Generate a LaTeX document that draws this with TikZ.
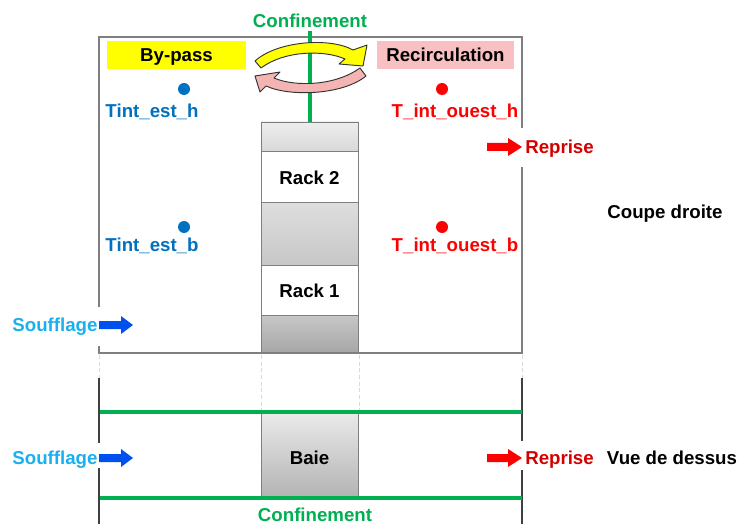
\documentclass[tikz,border=0pt]{standalone}
\usepackage{fontspec}
\setmainfont{Liberation Sans}
\usetikzlibrary{shadings}
\definecolor{cgreen}{HTML}{00B050}
\definecolor{cblue}{HTML}{0070C0}
\definecolor{csky}{HTML}{1AB0F0}
\definecolor{carrowblue}{HTML}{0050F0}
\definecolor{cred}{HTML}{FF0000}
\definecolor{cdred}{HTML}{D40000}
\definecolor{cpinkbox}{HTML}{F8C0C0}
\definecolor{cpinkarrow}{HTML}{F4B4B4}
\definecolor{cyel}{HTML}{FFFF00}
\definecolor{cborder}{HTML}{7F7F7F}
\tikzset{
  lbl/.style={font=\fontsize{14}{16}\selectfont\bfseries, inner sep=0pt, text height=10pt, text depth=0pt},
  boxline/.style={draw=cborder, line width=0.9pt},
  rackline/.style={draw=cborder, line width=0.6pt},
  greenline/.style={draw=cgreen, line width=2.4pt},
  faint/.style={draw=black!15, line width=0.4pt, densely dashed},
  dotb/.style={circle, fill=cblue, minimum size=9pt, inner sep=0pt},
  dotr/.style={circle, fill=cred, minimum size=9pt, inner sep=0pt},
  curvearrow/.style={draw=black!80, line width=0.7pt, line join=round},
}
\begin{document}
\begin{tikzpicture}[x=0.75pt,y=-0.75pt]
\useasboundingbox (0,0) rectangle (742,524);

% ---------- Coupe droite ----------
% rack stack
\shade[top color=black!7, bottom color=black!15] (261,122) rectangle (358,151);
\fill[white] (261,151) rectangle (358,202);
\shade[top color=black!13, bottom color=black!22] (261,202) rectangle (358,265);
\fill[white] (261,265) rectangle (358,315);
\shade[top color=black!22, bottom color=black!35] (261,315) rectangle (358,353);
\draw[rackline] (261,122) rectangle (358,353);
\draw[rackline] (261,151) -- (358,151) (261,202) -- (358,202) (261,265) -- (358,265) (261,315) -- (358,315);
\draw[draw=black!70, line width=0.9pt] (261,353) -- (358,353);

% outer box
\draw[boxline] (99,307) -- (99,37) -- (522,37) -- (522,128);
\draw[boxline] (522,167) -- (522,353) -- (99,353) -- (99,346);

% confinement line
\draw[greenline] (310,31) -- (310,122);
\node[lbl, text=cgreen] (conftop) at (310,21) {Confinement};

% boxes
\node[lbl, fill=cyel, minimum width=139*0.75pt, minimum height=28*0.75pt] (bypass) at (176.5,55) {By-pass};
\node[lbl, fill=cpinkbox, minimum width=137*0.75pt, minimum height=28*0.75pt] (recirc) at (445.5,55) {Recirculation};

% curved arrows
\filldraw[curvearrow, fill=cyel] (255,61) .. controls (277,41) and (330,37) .. (353,50) -- (367,45) -- (363,66) -- (339,64) -- (345,59) .. controls (325,50) and (285,50) .. (261,68) -- cycle;
\filldraw[curvearrow, fill=cpinkarrow] (366,76) .. controls (343,95) and (290,97) .. (266,86) -- (260,92) -- (255,76) -- (280,72) -- (274,78) .. controls (295,87) and (335,86) .. (360,68) -- cycle;

% sensors
\node[dotb] (deh) at (184,89) {};
\node[lbl, text=cblue] (teh) at (152,111) {Tint\_est\_h};
\node[dotb] (deb) at (184,227) {};
\node[lbl, text=cblue] (teb) at (152,245) {Tint\_est\_b};
\node[dotr] (doh) at (442,89) {};
\node[lbl, text=cred] (toh) at (455,111) {T\_int\_ouest\_h};
\node[dotr] (dob) at (442,227) {};
\node[lbl, text=cred] (tob) at (455,245) {T\_int\_ouest\_b};

% racks labels
\node[lbl] (rack2) at (309.5,178) {Rack 2};
\node[lbl] (rack1) at (309.5,291) {Rack 1};

% reprise
\fill[cred] (487,143) -- (508,143) -- (508,138) -- (522,147) -- (508,156) -- (508,151) -- (487,151) -- cycle;
\node[lbl, text=cdred, anchor=west] (rep1) at (525,147) {Reprise};
\node[lbl] (coupe) at (665,212) {Coupe droite};

% soufflage
\node[lbl, text=csky] (souf1) at (55,325) {Soufflage};
\fill[carrowblue] (99,321) -- (121,321) -- (121,316) -- (133,325) -- (121,334) -- (121,329) -- (99,329) -- cycle;

% ---------- Vue de dessus ----------
\draw[faint] (99,355) -- (99,378);
\draw[faint] (261,355) -- (261,412);
\draw[faint] (359,355) -- (359,412);
\draw[faint] (522,355) -- (522,378);
\draw[draw=black!75, line width=0.9pt] (99,378) -- (99,443) (99,468) -- (99,524);
\draw[draw=black!75, line width=0.9pt] (522,378) -- (522,441) (522,470) -- (522,524);

\shade[top color=black!8, bottom color=black!30] (261,412) rectangle (358,498);
\draw[rackline] (261,412) rectangle (358,498);
\node[lbl] (baie) at (309.5,458) {Baie};
\draw[greenline] (100,412) -- (522,412);
\draw[greenline] (100,498) -- (522,498);

\node[lbl, text=csky] (souf2) at (55,458) {Soufflage};
\fill[carrowblue] (99,454) -- (121,454) -- (121,449) -- (133,458) -- (121,467) -- (121,462) -- (99,462) -- cycle;
\fill[cred] (487,454) -- (508,454) -- (508,449) -- (522,458) -- (508,467) -- (508,462) -- (487,462) -- cycle;
\node[lbl, text=cdred, anchor=west] (rep2) at (525,458) {Reprise};
\node[lbl] (vue) at (672,458) {Vue de dessus};
\node[lbl, text=cgreen] (confbot) at (315,515) {Confinement};
\end{tikzpicture}
\end{document}
